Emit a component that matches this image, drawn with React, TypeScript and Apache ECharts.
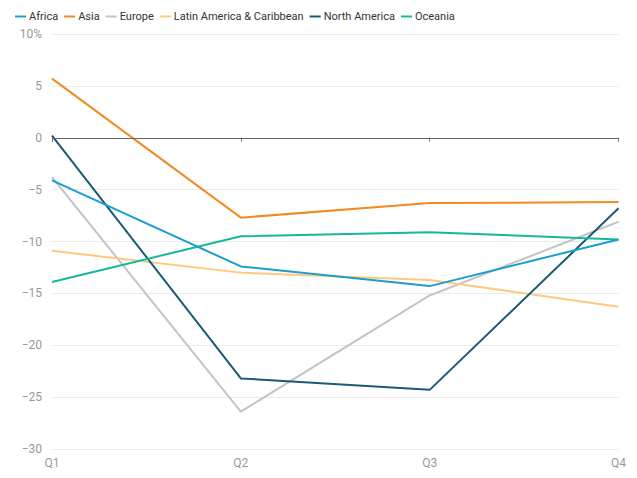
import React, { useEffect, useRef } from "react";
import * as echarts from "echarts";

const quarters = ["Q1", "Q2", "Q3", "Q4"];
const regionNames = ["Africa", "Asia", "Europe", "Latin America & Caribbean", "North America", "Oceania"];
const africa = [-4.1, -12.4, -14.3, -9.8];
const asia = [5.7, -7.7, -6.3, -6.2];
const europe = [-3.8, -26.4, -15.2, -8.1];
const latinAmerica = [-10.9, -13.0, -13.7, -16.3];
const northAmerica = [0.2, -23.2, -24.3, -6.8];
const oceania = [-13.9, -9.5, -9.1, -9.8];
const colors = ["#1c9dd0", "#f28a22", "#c4c4c4", "#fdc97c", "#195b73", "#17b79c"];

export default function App() {
  const ref = useRef<HTMLDivElement>(null);
  useEffect(() => {
    const chart = echarts.init(ref.current!, null, { renderer: "svg" });
    const seriesData = [africa, asia, europe, latinAmerica, northAmerica, oceania];
    chart.setOption({
      animation: false,
      textStyle: { fontFamily: "Roboto" },
      color: colors,
      legend: {
        left: 2,
        top: -2,
        icon: "rect",
        itemWidth: 11,
        itemHeight: 2,
        itemGap: 6,
        textStyle: {
          fontSize: 11,
          color: "#333",
          fontFamily: "Roboto",
          padding: [0, 0, 0, -2],
        },
        data: regionNames,
      },
      grid: { left: 44, right: 7, top: 26, bottom: 21 },
      xAxis: {
        type: "category",
        data: quarters,
        boundaryGap: false,
        axisLine: { show: false },
        axisTick: { show: true, alignWithLabel: true, length: 4, lineStyle: { color: "#777" } },
        axisLabel: { color: "#999", fontSize: 12, margin: 8 },
      },
      yAxis: {
        type: "value",
        min: -30,
        max: 10,
        interval: 5,
        axisLine: { show: false },
        axisTick: { show: false },
        splitLine: { lineStyle: { color: "#ebebeb" } },
        axisLabel: {
          color: "#999",
          fontSize: 12,
          margin: 10,
          formatter: (v: number) => (v === 10 ? "10%" : v < 0 ? "\u2212" + Math.abs(v) : String(v)),
        },
      },
      series: seriesData.map((d, i) => ({
        name: regionNames[i],
        type: "line",
        data: d,
        symbol: "none",
        lineStyle: { width: 2 },
        z: i === 0 ? 3 : 2,
        ...(i === 0
          ? {
              markLine: {
                silent: true,
                symbol: "none",
                label: { show: false },
                lineStyle: { color: "#666", type: "solid", width: 1 },
                data: [{ yAxis: 0 }],
              },
            }
          : {}),
      })),
    });
    return () => chart.dispose();
  }, []);
  return <div ref={ref} style={{ width: 621, height: 462 }} />;
}
